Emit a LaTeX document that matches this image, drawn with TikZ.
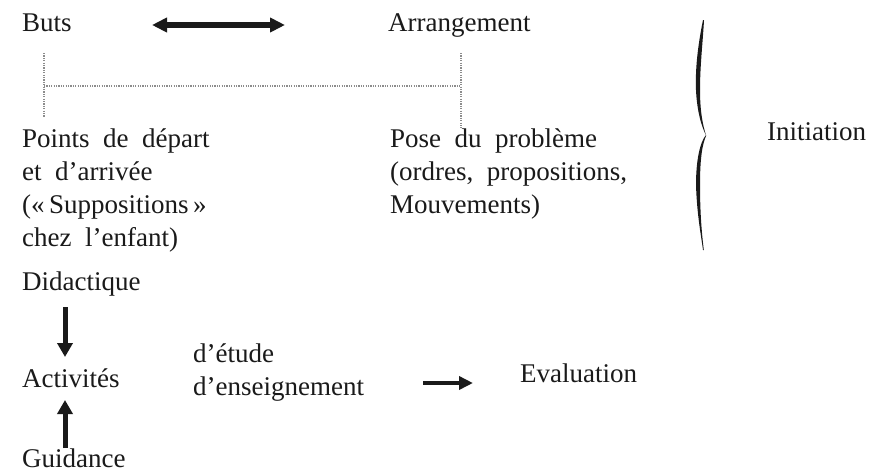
\documentclass[tikz,border=0pt]{standalone}
\usepackage{fontspec}
\setmainfont{Liberation Serif}[WordSpace=2]
\usetikzlibrary{arrows.meta}
\definecolor{ink}{HTML}{1A1A1A}
\definecolor{dotgray}{HTML}{8C8C8C}
\begin{document}
\begin{tikzpicture}[x=1pt,y=-1pt,
  txt/.style={anchor=base west, inner sep=0pt, font=\fontsize{27}{33}\selectfont, text=ink},
  dbl/.style={draw=ink, line width=5.5pt, {Triangle[length=15pt,width=14pt]}-{Triangle[length=15pt,width=14pt]}},
  varrow/.style={draw=ink, line width=5pt, -{Triangle[length=14pt,width=15pt]}},
  harrow/.style={draw=ink, line width=4.5pt, -{Triangle[length=14pt,width=13pt]}},
  dotline/.style={draw=dotgray, line width=1.6pt, dash pattern=on 1.2pt off 1.2pt}]
\useasboundingbox (0,0) rectangle (871,475);
\fill[white] (0,0) rectangle (871,475);

% texts
\node[txt] (buts) at (22,31) {Buts};
\node[txt] (arr) at (388,31) {Arrangement};
\node[txt] (p1) at (22,147) {Points de départ};
\node[txt] (p2) at (22,180) {et d’arrivée};
\node[txt] (p3) at (22,213) {(«\,Suppositions\,»};
\node[txt] (p4) at (22,246) {chez l’enfant)};
\node[txt] (q1) at (390,147) {Pose du problème};
\node[txt] (q2) at (390,180) {(ordres, propositions,};
\node[txt] (q3) at (390,213) {Mouvements)};
\node[txt] (init) at (767,140) {Initiation};
\node[txt] (did) at (22,290) {Didactique};
\node[txt] (act) at (22,387) {Activités};
\node[txt] (etu) at (193,362) {d’étude};
\node[txt] (ens) at (193,395) {d’enseignement};
\node[txt] (eva) at (520,382) {Evaluation};
\node[txt] (gui) at (22,467) {Guidance};

% arrows
\coordinate (a1) at (152,25);
\coordinate (a2) at (285,25);
\draw[dbl] (a1) -- (a2);
\coordinate (d1) at (65,307);
\coordinate (d2) at (65,357);
\draw[varrow] (d1) -- (d2);
\coordinate (u1) at (65,448);
\coordinate (u2) at (65,400);
\draw[varrow] (u1) -- (u2);
\coordinate (r1) at (423,383);
\coordinate (r2) at (473,383);
\draw[harrow] (r1) -- (r2);

% dotted bracket
\coordinate (b1) at (44,53);
\coordinate (b2) at (44,117);
\coordinate (b3) at (44,86);
\coordinate (b4) at (461,86);
\coordinate (b5) at (461,53);
\coordinate (b6) at (461,128);
\draw[dotline] (b1) -- (b2);
\draw[dotline] (b3) -- (b4);
\draw[dotline] (b5) -- (b6);

% brace
\fill[ink] (703,20) .. controls (699,40) and (695,65) .. (696,90)
  .. controls (697,112) and (702,128) .. (706,135)
  .. controls (703,126) and (700,112) .. (700,90)
  .. controls (700,65) and (703,40) .. (704,20) -- cycle;
\fill[ink] (706,135) .. controls (700,142) and (696,160) .. (696,185)
  .. controls (697,215) and (701,235) .. (703,250)
  -- (703.8,250) .. controls (702,235) and (700,215) .. (700,185)
  .. controls (700,160) and (702,145) .. (706,136) -- cycle;
\end{tikzpicture}
\end{document}
